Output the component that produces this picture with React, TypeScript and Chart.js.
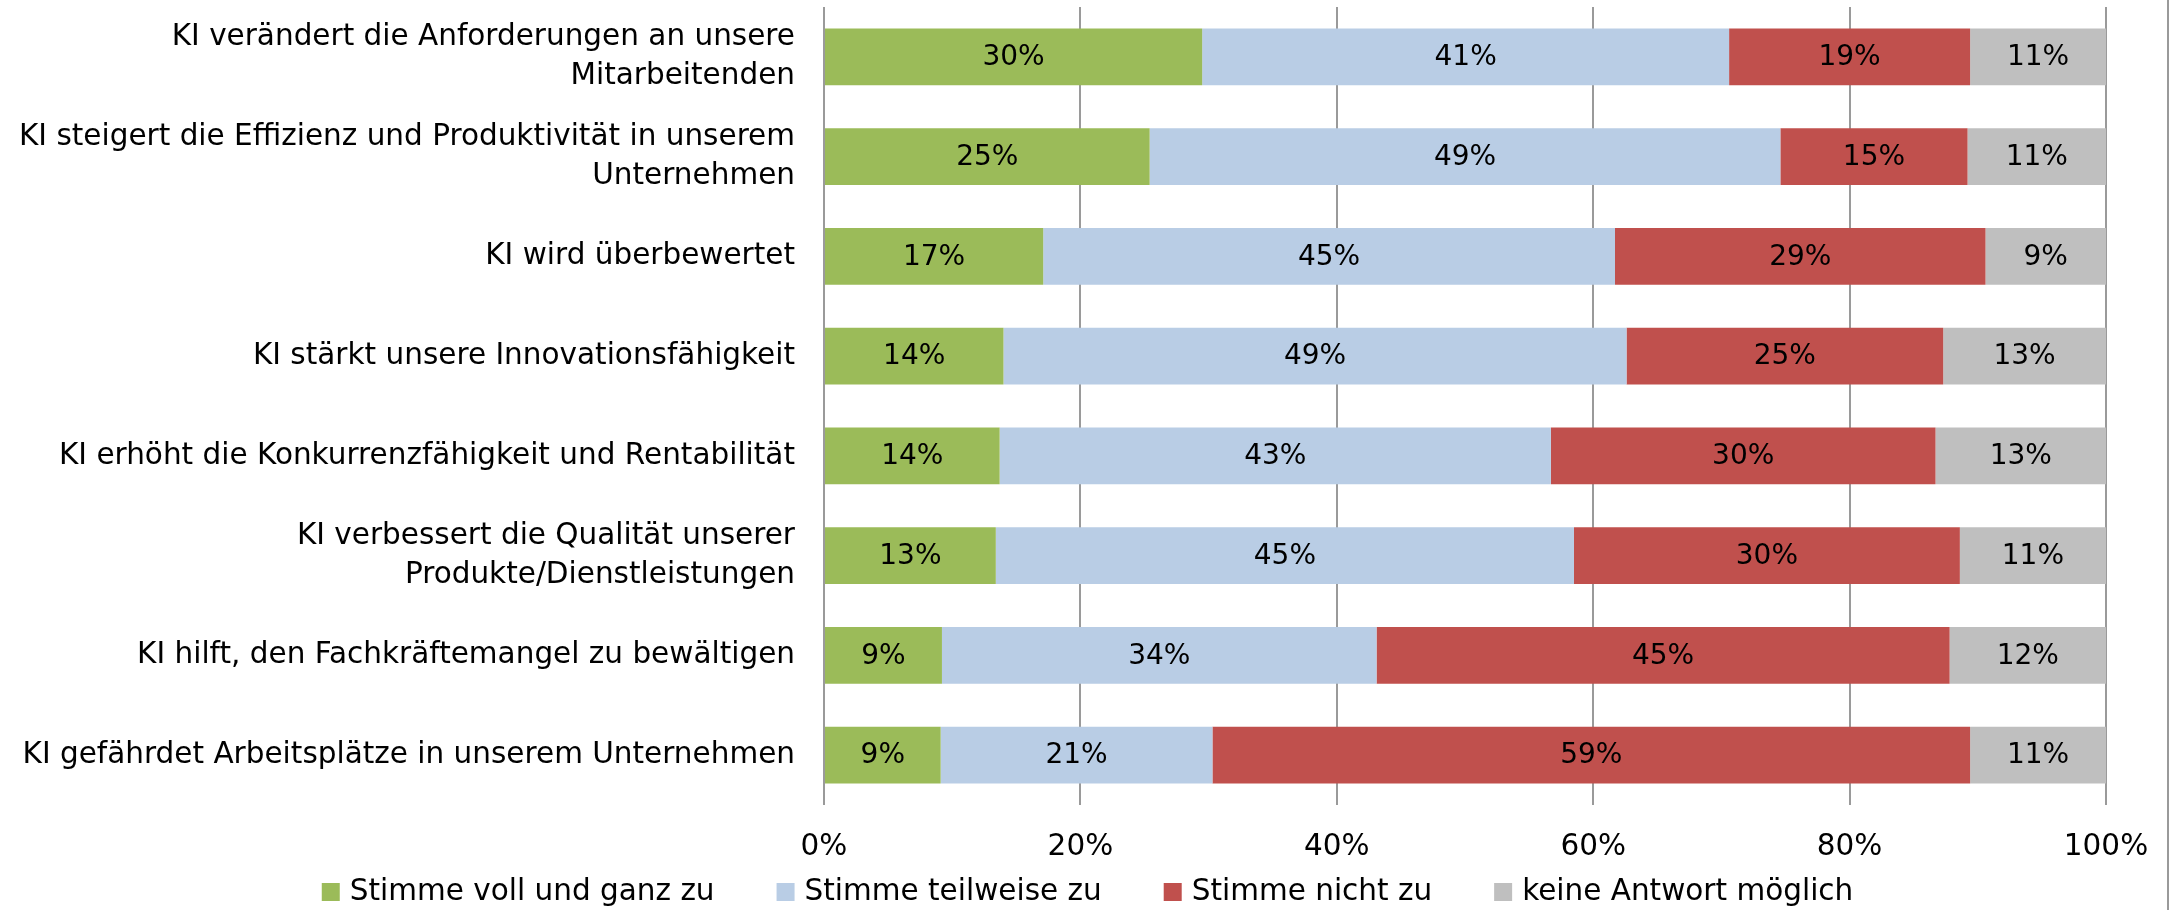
import React, { useEffect, useRef } from "react";
import { Chart, registerables } from "chart.js";

Chart.register(...registerables);

const categories: (string | string[])[] = [
  ["KI verändert die Anforderungen an unsere", "Mitarbeitenden"],
  ["KI steigert die Effizienz und Produktivität in unserem", "Unternehmen"],
  "KI wird überbewertet",
  "KI stärkt unsere Innovationsfähigkeit",
  "KI erhöht die Konkurrenzfähigkeit und Rentabilität",
  ["KI verbessert die Qualität unserer", "Produkte/Dienstleistungen"],
  "KI hilft, den Fachkräftemangel zu bewältigen",
  "KI gefährdet Arbeitsplätze in unserem Unternehmen",
];

const seriesNames = [
  "Stimme voll und ganz zu",
  "Stimme teilweise zu",
  "Stimme nicht zu",
  "keine Antwort möglich",
];

const vollUndGanz = [29.5, 25.4, 17.1, 14.0, 13.7, 13.4, 9.2, 9.1];
const teilweise = [41.1, 49.2, 44.6, 48.6, 43.0, 45.1, 33.9, 21.2];
const nicht = [18.8, 14.6, 28.9, 24.7, 30.0, 30.1, 44.7, 59.1];
const keineAntwort = [10.6, 10.8, 9.4, 12.7, 13.3, 11.4, 12.2, 10.6];

const xTickValues = [0, 20, 40, 60, 80, 100];

const seriesColors = ["#9BBB59", "#B9CDE5", "#C0504D", "#BFBFBF"];

const FONT = "'DejaVu Sans', sans-serif";

const labelsPlugin = {
  id: "segmentLabels",
  afterDatasetsDraw(chart: any) {
    const ctx = chart.ctx;
    ctx.save();
    ctx.font = `28px ${FONT}`;
    ctx.fillStyle = "#000";
    ctx.textAlign = "center";
    ctx.textBaseline = "middle";
    chart.data.datasets.forEach((ds: any, di: number) => {
      const meta = chart.getDatasetMeta(di);
      meta.data.forEach((el: any, i: number) => {
        const { x, base, y } = el.getProps(["x", "base", "y"], true);
        const v = ds.data[i];
        ctx.fillText(Math.round(v) + "%", (x + base) / 2, y + 1);
      });
    });
    ctx.restore();
  },
};

const legendPlugin = {
  id: "customLegend",
  afterDraw(chart: any) {
    const ctx = chart.ctx;
    ctx.save();
    ctx.font = `29.5px ${FONT}`;
    ctx.textBaseline = "middle";
    ctx.textAlign = "left";
    const box = 18;
    const textGap = 10;
    const itemGap = 62;
    const items = chart.data.datasets.map((ds: any) => ({
      label: ds.label,
      color: ds.backgroundColor,
      w: box + textGap + ctx.measureText(ds.label).width,
    }));
    const total = items.reduce((s: number, it: any) => s + it.w, 0) + itemGap * (items.length - 1);
    let x = (chart.width - total) / 2;
    const cy = 892;
    items.forEach((it: any) => {
      ctx.fillStyle = it.color;
      ctx.fillRect(x, cy - box / 2, box, box);
      ctx.fillStyle = "#000";
      ctx.fillText(it.label, x + box + textGap, cy);
      x += it.w + itemGap;
    });
    // right frame line
    ctx.strokeStyle = "#9a9a9a";
    ctx.lineWidth = 2;
    ctx.beginPath();
    ctx.moveTo(2168, 0);
    ctx.lineTo(2168, chart.height);
    ctx.stroke();
    ctx.restore();
  },
};

export default function App() {
  const canvasRef = useRef<HTMLCanvasElement | null>(null);

  useEffect(() => {
    document.body.style.margin = "0";
    document.body.style.overflow = "hidden";
    const canvas = canvasRef.current;
    if (!canvas) return;
    const chart = new Chart(canvas, {
      type: "bar",
      data: {
        labels: categories,
        datasets: [vollUndGanz, teilweise, nicht, keineAntwort].map((d, i) => ({
          label: seriesNames[i],
          data: d,
          backgroundColor: seriesColors[i],
          borderWidth: 0,
          categoryPercentage: 1,
          barPercentage: 0.57,
        })),
      },
      options: {
        indexAxis: "y",
        responsive: false,
        animation: false,
        layout: { padding: { left: 0, right: 69, top: 7, bottom: 45 } },
        plugins: {
          legend: { display: false },
          tooltip: { enabled: false },
        },
        scales: {
          x: {
            stacked: true,
            min: 0,
            max: 100,
            afterBuildTicks: (scale: any) => {
              scale.ticks = xTickValues.map((v) => ({ value: v }));
            },
            afterFit: (scale: any) => {
              scale.height = 60;
              scale.paddingLeft = 0;
              scale.paddingRight = 0;
            },
            ticks: {
              callback: (v: any) => v + "%",
              color: "#000",
              font: { family: FONT, size: 29.5 },
              padding: 25,
              maxRotation: 0,
            },
            grid: { color: "#9a9a9a", lineWidth: 2, drawTicks: false },
            border: { display: false },
          },
          y: {
            stacked: true,
            afterFit: (scale: any) => {
              scale.width = 824;
              scale.paddingTop = 0;
              scale.paddingBottom = 0;
            },
            ticks: {
              color: "#000",
              font: { family: FONT, size: 29.5, lineHeight: 1.32 },
              padding: 29,
            },
            grid: { display: false, drawTicks: false },
            border: { display: false },
          },
        },
      },
      plugins: [labelsPlugin, legendPlugin],
    });
    return () => chart.destroy();
  }, []);

  return (
    <div style={{ width: 2175, height: 910, overflow: "hidden" }}>
      <canvas ref={canvasRef} width={2175} height={910} style={{ display: "block" }} />
    </div>
  );
}
